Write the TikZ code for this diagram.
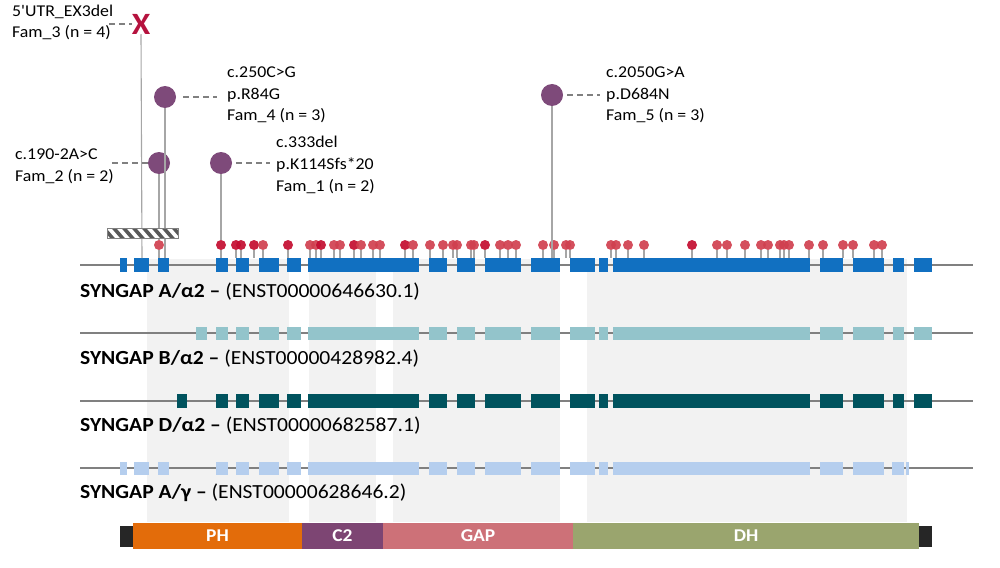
\documentclass[tikz,border=0pt]{standalone}
\usepackage{fontspec}
\setmainfont{Carlito}[FakeStretch=1.08]
\newfontfamily\plainq{Carlito}[FakeStretch=1.08]
\definecolor{trk}{HTML}{808080}
\definecolor{exA}{HTML}{1170C1}
\definecolor{exB}{HTML}{93C4CB}
\definecolor{exD}{HTML}{00535E}
\definecolor{exG}{HTML}{B5CEEE}
\definecolor{band}{HTML}{F2F2F2}
\definecolor{purp}{HTML}{7E4A7A}
\definecolor{lolD}{HTML}{C30D30}
\definecolor{lolL}{HTML}{D0404F}
\definecolor{stem}{HTML}{A6A6A6}
\definecolor{cPH}{HTML}{E36C0A}
\definecolor{cC2}{HTML}{7D4573}
\definecolor{cGAP}{HTML}{CD7178}
\definecolor{cDH}{HTML}{9AA56E}
\definecolor{xred}{HTML}{B5123E}
\definecolor{hatch}{HTML}{595959}
\def\tail{216/228,236/249,259/279,287/301,308/419,429/447,457/475,485/521,531/560,570/595,599/608,613/810,820/843,853/884}
\edef\listA{120/127,134/149,158/169,\tail,893/904,914/932}
\edef\listB{196/207,\tail,893/904,914/932}
\edef\listD{177/187,\tail,893/904,914/932}
\edef\listG{120/127,134/149,158/169,\tail,892/904,905.5/909}
\begin{document}
\begin{tikzpicture}[x=1pt,y=-1pt,
  lbl/.style={inner sep=0pt, align=left, anchor=base west, font=\fontsize{16.5}{21.8}\selectfont},
  trklbl/.style={inner sep=0pt, anchor=base west, font=\fontsize{20}{24}\selectfont},
  lol/.style={circle, inner sep=0pt, minimum size=10pt, fill opacity=0.92},
  pur/.style={circle, inner sep=0pt, minimum size=22pt, fill=purp},
  stemline/.style={draw=stem, line width=1.1pt},
  dashline/.style={draw=trk, line width=1.6pt, dash pattern=on 6pt off 4pt},
  trkline/.style={draw=trk, line width=2.5pt},
  dom/.style={inner sep=0pt, minimum height=26pt, text=white, font=\bfseries\fontsize{18}{20}\selectfont},
  endcap/.style={inner sep=0pt, minimum height=21pt, minimum width=13pt, fill=black!85}
]
\useasboundingbox (0,0) rectangle (1000,567);
% background bands
\foreach \a/\b in {147/289,309/376,393/560,587/907}
  \fill[band] (\a,259) rectangle (\b,522);
% tracks
\foreach \y in {265,333,401,468}
  \draw[trkline] (80,\y) -- (973,\y);
% A/alpha2
\foreach \a/\b in \listA
  \fill[exA] (\a,258) rectangle (\b,272);
% B/alpha2
\foreach \a/\b in \listB
  \fill[exB] (\a,326.5) rectangle (\b,340);
% D/alpha2
\foreach \a/\b in \listD
  \fill[exD] (\a,394) rectangle (\b,408);
% A/gamma
\foreach \a/\b in \listG
  \fill[exG] (\a,461.5) rectangle (\b,475);
% lollipops
\node[lol, fill=lolL] (lol0) at (159,245) {};
\coordinate (t0) at (159,258);
\draw[stemline] (lol0) -- (t0);
\foreach \x/\c [count=\i] in {221/lolD,236/lolD,241/lolD,254/lolD,263/lolL,288/lolD,310/lolL,316/lolL,321/lolD,334/lolL,340/lolL,354/lolD,361/lolL,373/lolL,380/lolL,405/lolD,413/lolL,430/lolL,443/lolL,453/lolL,457/lolL,471/lolL,474/lolL,485/lolD,500/lolL,508/lolL,516/lolL,543/lolL,554/lolL,566/lolL,570/lolL,611/lolL,616/lolL,628/lolL,644/lolL,692/lolD,717/lolL,727/lolL,745/lolL,761/lolL,768/lolL,780/lolL,784/lolL,789/lolL,809/lolL,823/lolL,843/lolL,853/lolL,874/lolL,882/lolL}{
  \coordinate (t\i) at (\x,258);
  \draw[stemline] (\x,250) -- (t\i);
  \node[lol, fill=\c] (lol\i) at (\x,245) {};
}
% reported variants
\node[text=xred, font=\bfseries\fontsize{31}{31}\selectfont, inner sep=0pt] (xm) at (141,24) {X};
\node[pur] (p4) at (165,97) {};
\node[pur] (p2) at (159,163) {};
\node[pur] (p1) at (221,163) {};
\node[pur] (p5) at (552,95) {};
\coordinate (xs) at (142,258);
\coordinate (s4) at (165,258);
\coordinate (s5) at (552,258);
\draw[stemline] (xm.south) -- (xs);
\draw[stemline] (p4) -- (s4);
\draw[stemline] (p2) -- (lol0);
\draw[stemline] (p1) -- (lol1);
\draw[stemline] (p5) -- (s5);
% hatched deletion bar
\begin{scope}
  \clip (107,228) rectangle (178,238.5);
  \fill[white] (107,228) rectangle (178,238.5);
  \foreach \s in {92,102,...,182}
    \draw[hatch, line width=3.6pt] (\s,226) -- (\s+13,241);
\end{scope}
\draw[trk, line width=0.9pt] (107,228) rectangle (178,238.5);
% labels (anchor = baseline of last line)
\node[lbl] (lab3) at (12,38) {5{\plainq '}UTR\_EX3del\\Fam\_3 (n = 4)};
\node[lbl] (lab4) at (227,121) {c.250C>G\\p.R84G\\Fam\_4 (n = 3)};
\node[lbl] (lab2) at (15,181) {c.190-2A>C\\Fam\_2 (n = 2)};
\node[lbl] (lab1) at (276,191) {c.333del\\p.K114Sfs*20\\Fam\_1 (n = 2)};
\node[lbl] (lab5) at (606,121) {c.2050G>A\\p.D684N\\Fam\_5 (n = 3)};
\draw[dashline, shorten <=-4pt] (lab3.east |- xm.west) -- (xm.west);
\draw[dashline, shorten <=7pt, shorten >=10pt] (p4.east) -- (lab4.west |- p4.east);
\draw[dashline, shorten <=-2pt] (lab2.east |- p2.west) -- (p2.west);
\draw[dashline, shorten <=4pt, shorten >=6pt] (p1.east) -- (lab1.west |- p1.east);
\draw[dashline, shorten <=4pt, shorten >=6pt] (p5.east) -- (lab5.west |- p5.east);
% track labels
\node[trklbl] (nA) at (80,297) {\textbf{SYNGAP A/α2 –} (ENST00000646630.1)};
\node[trklbl] (nB) at (80,364) {\textbf{SYNGAP B/α2 –} (ENST00000428982.4)};
\node[trklbl] (nD) at (80,431) {\textbf{SYNGAP D/α2 –} (ENST00000682587.1)};
\node[trklbl] (nG) at (80,498) {\textbf{SYNGAP A/γ –} (ENST00000628646.2)};
% domain bar
\node[endcap] (capL) at (126.5,536.5) {};
\node[endcap] (capR) at (925.5,536) {};
\node[dom, fill=cPH, minimum width=169pt] (ph) at (217.5,536) {PH};
\node[dom, fill=cC2, minimum width=81pt] (c2) at (342.5,536) {C2};
\node[dom, fill=cGAP, minimum width=190pt] (gap) at (478,536) {GAP};
\node[dom, fill=cDH, minimum width=346pt] (dh) at (746,536) {DH};
\end{tikzpicture}
\end{document}
